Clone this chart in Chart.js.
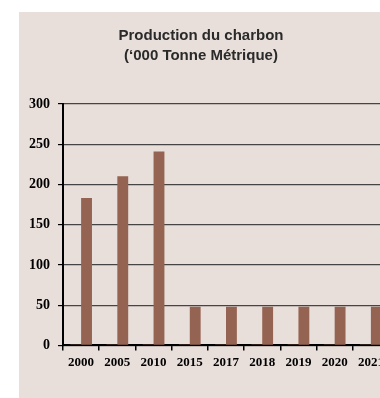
<!DOCTYPE html>
<html>
<head>
<meta charset="utf-8">
<script src="https://cdn.jsdelivr.net/npm/chart.js@4/dist/chart.umd.min.js"></script>
<style>
html,body{margin:0;padding:0;background:#fff;width:380px;height:398px;overflow:hidden;}
#panel{position:absolute;left:19px;top:12px;width:361px;height:386px;background:#e8dfdb;overflow:hidden;}
#wrap{position:absolute;left:0;top:0;width:375px;height:386px;}
</style>
</head>
<body>
<div id="panel"><div id="wrap"><canvas id="c" width="375" height="386"></canvas></div></div>
<script>
const categories = ["2000", "2005", "2010", "2015", "2017", "2018", "2019", "2020", "2021"];
const seriesSmall = [1.5, 1.5, 1.5, 1.5, 1.5, 1.5, 1.5, 1.5, 1.5];
const seriesMain = [183, 210, 241, 48, 48, 48, 48, 48, 48];
const titleLines = ["Production du charbon", "(\u2018000 Tonne M\u00e9trique)"];
const yTicks = [0, 50, 100, 150, 200, 250, 300];

const shiftTitle = {
  id: 'shiftTitle',
  afterLayout(chart) {
    const t = chart.titleBlock;
    if (t) { t.left -= 4; t.right -= 4; }
  }
};

new Chart(document.getElementById('c'), {
  type: 'bar',
  data: {
    labels: categories,
    datasets: [
      { data: seriesSmall, backgroundColor: '#5e3b2f', categoryPercentage: 0.6, barPercentage: 1.0 },
      { data: seriesMain, backgroundColor: '#956352', categoryPercentage: 0.6, barPercentage: 1.0 }
    ]
  },
  plugins: [shiftTitle],
  options: {
    responsive: false,
    animation: false,
    layout: { padding: { left: 2, right: 5, top: 0, bottom: 24 } },
    plugins: {
      legend: { display: false },
      tooltip: { enabled: false },
      title: {
        display: true,
        text: titleLines,
        color: '#2a2a2a',
        font: { family: 'Liberation Sans', size: 15, weight: 'bold', lineHeight: 1.33 },
        padding: { top: 14, bottom: 38 }
      }
    },
    scales: {
      x: {
        grid: { display: true, drawOnChartArea: false, drawTicks: true, tickLength: 5, color: '#000', lineWidth: 1.5, offset: true },
        border: { color: '#000', width: 2 },
        ticks: { color: '#000', padding: 4, maxRotation: 0, autoSkip: false, font: { family: 'Liberation Serif', size: 13, weight: 'bold' } }
      },
      y: {
        min: 0, max: 300,
        afterBuildTicks: (s) => { s.ticks = yTicks.map(v => ({ value: v })); },
        grid: { color: '#454545', lineWidth: 1.2, tickLength: 5, tickColor: '#000' },
        border: { color: '#000', width: 2 },
        ticks: { color: '#000', padding: 8, font: { family: 'Liberation Serif', size: 14, weight: 'bold' } }
      }
    }
  }
});
</script>
</body>
</html>
